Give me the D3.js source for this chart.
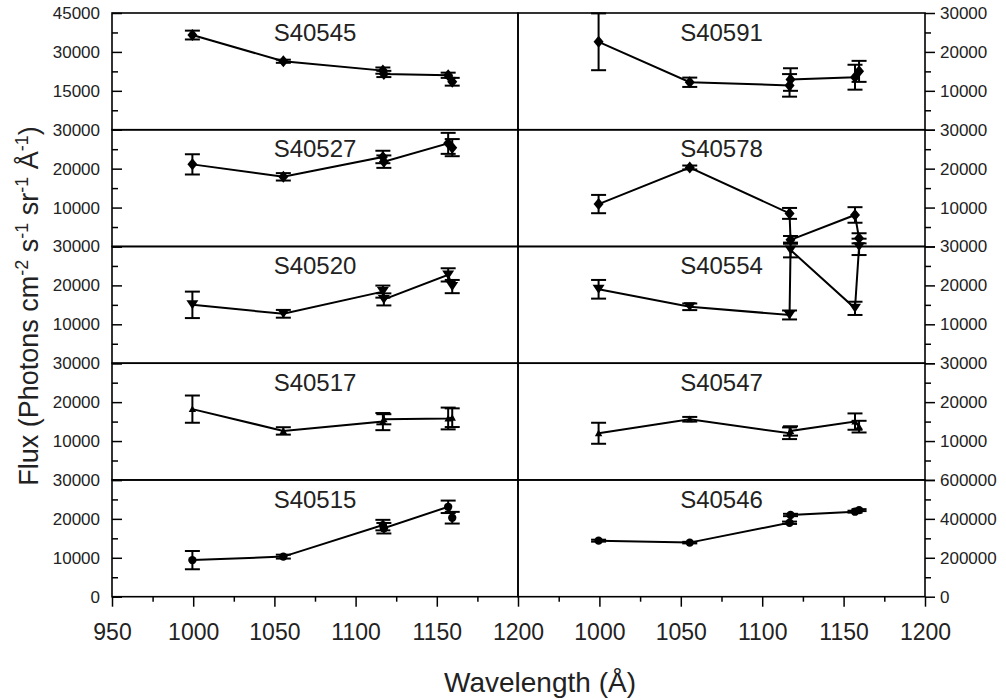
<!DOCTYPE html>
<html>
<head>
<meta charset="utf-8">
<script src="https://cdn.jsdelivr.net/npm/d3@7"></script>
<style>
  body { margin: 0; background: #fff; }
  text { font-family: "Liberation Sans", Arial, Helvetica, sans-serif; fill: #222; }
</style>
</head>
<body>
<svg id="chart" width="1006" height="700"></svg>
<script>
// wavelengths (Å) shared by every panel, in the order the line joins them
const waves = [999.5, 1055.5, 1116.8, 1117.4, 1157, 1159.5];

// flux and errors per target
const s40545 = [36500, 26400, 22800, 21500, 21000, 18500];
const s40545Err = [1700, 600, 1200, 1200, 1000, 1500];
const s40591 = [22600, 12200, 11400, 12900, 13500, 15000];
const s40591Err = [7300, 1200, 2900, 2900, 3200, 2700];
const s40527 = [21100, 17900, 23000, 21800, 26500, 25400];
const s40527Err = [2600, 950, 1600, 1600, 2700, 2200];
const s40578 = [10900, 20300, 8500, 1700, 8100, 2100];
const s40578Err = [2350, 500, 1400, 1000, 2000, 1300];
const s40520 = [15000, 12700, 18400, 16400, 22700, 19700];
const s40520Err = [3400, 1000, 1550, 1550, 1700, 1700];
const s40554 = [19000, 14500, 12400, 29100, 14100, 29900];
const s40554Err = [2400, 850, 1150, 1900, 1700, 2100];
const s40517 = [18200, 12600, 15000, 15600, 15800, 16000];
const s40517Err = [3500, 950, 2200, 1300, 2800, 2400];
const s40547 = [12000, 15600, 12000, 12600, 15000, 13700];
const s40547Err = [2700, 600, 1500, 1200, 2100, 1500];
const s40515 = [9400, 10300, 18400, 17600, 23100, 20300];
const s40515Err = [2350, 500, 1350, 1350, 1600, 1500];
const s40546 = [288000, 278000, 380000, 420000, 437000, 445000];
const s40546Err = [5000, 4000, 6000, 6000, 5000, 5000];

const svg = d3.select('#chart');

// custom marker shapes
const diamond = { draw(c, s) { const w = Math.sqrt(s) / 2; c.moveTo(0, -w * 1.2); c.lineTo(w, 0); c.lineTo(0, w * 1.2); c.lineTo(-w, 0); c.closePath(); } };
const triDown = { draw(c, s) { const w = Math.sqrt(s) / 2; c.moveTo(-w * 1.2, -w * 0.9); c.lineTo(w * 1.2, -w * 0.9); c.lineTo(0, w * 0.9); c.closePath(); } };
const triUp = { draw(c, s) { const w = Math.sqrt(s) / 2; c.moveTo(0, -w); c.lineTo(w, w * 0.8); c.lineTo(-w, w * 0.8); c.closePath(); } };

const panels = [
  { name: 'S40545', values: s40545, errors: s40545Err, col: 0, row: 0, max: 45000, step: 15000, shape: diamond, size: 100 },
  { name: 'S40591', values: s40591, errors: s40591Err, col: 1, row: 0, max: 30000, step: 10000, shape: diamond, size: 100 },
  { name: 'S40527', values: s40527, errors: s40527Err, col: 0, row: 1, max: 30000, step: 10000, shape: diamond, size: 100 },
  { name: 'S40578', values: s40578, errors: s40578Err, col: 1, row: 1, max: 30000, step: 10000, shape: diamond, size: 100 },
  { name: 'S40520', values: s40520, errors: s40520Err, col: 0, row: 2, max: 30000, step: 10000, shape: triDown, size: 100 },
  { name: 'S40554', values: s40554, errors: s40554Err, col: 1, row: 2, max: 30000, step: 10000, shape: triDown, size: 100 },
  { name: 'S40517', values: s40517, errors: s40517Err, col: 0, row: 3, max: 30000, step: 10000, shape: triUp, size: 55 },
  { name: 'S40547', values: s40547, errors: s40547Err, col: 1, row: 3, max: 30000, step: 10000, shape: triUp, size: 55 },
  { name: 'S40515', values: s40515, errors: s40515Err, col: 0, row: 4, max: 30000, step: 10000, shape: d3.symbolCircle, size: 55 },
  { name: 'S40546', values: s40546, errors: s40546Err, col: 1, row: 4, max: 600000, step: 200000, shape: d3.symbolCircle, size: 55 }
];

const colX = [[112, 518], [518, 925]];
const rowTop = 13;
const rowH = 116.74;

panels.forEach(p => {
  const [x0, x1] = colX[p.col];
  const yTop = rowTop + p.row * rowH;
  const yBot = yTop + rowH;
  const x = d3.scaleLinear().domain([950, 1200]).range([x0, x1]);
  const y = d3.scaleLinear().domain([0, p.max]).range([yBot, yTop]);
  const g = svg.append('g');

  g.append('rect')
    .attr('x', x0).attr('y', yTop)
    .attr('width', x1 - x0).attr('height', rowH)
    .attr('fill', 'none').attr('stroke', '#000').attr('stroke-width', 1.6);

  // y axis: left column ticks inward, right column ticks outward
  const majors = d3.range(0, p.max + 1, p.step);
  const minors = d3.range(p.step / 2, p.max, p.step);
  const fmt = d => (d === 0 && p.row < 4) ? '' : d;
  let major, minor;
  if (p.col === 0) {
    major = d3.axisLeft(y).tickValues(majors).tickSize(-10).tickPadding(12).tickFormat(fmt);
    minor = d3.axisLeft(y).tickValues(minors).tickSize(-6).tickFormat('');
  } else {
    major = d3.axisRight(y).tickValues(majors).tickSize(10).tickPadding(5).tickFormat(fmt);
    minor = d3.axisRight(y).tickValues(minors).tickSize(6).tickFormat('');
  }
  const xa = p.col === 0 ? x0 : x1;
  [major, minor].forEach(a => {
    const ag = g.append('g').attr('transform', `translate(${xa},0)`).call(a);
    ag.select('.domain').remove();
    ag.selectAll('line').attr('stroke', '#000').attr('stroke-width', 1.5);
    ag.selectAll('text').attr('font-size', 17).attr('fill', '#222');
  });

  // x axis only under the bottom row
  if (p.row === 4) {
    const xt = p.col === 0 ? d3.range(950, 1201, 50) : d3.range(1000, 1201, 50);
    const xb = d3.axisBottom(x).tickValues(xt).tickSize(10).tickPadding(17).tickFormat(d3.format('d'));
    const xm = d3.axisBottom(x).tickValues(d3.range(975, 1200, 50)).tickSize(5).tickFormat('');
    [xb, xm].forEach(a => {
      const ag = g.append('g').attr('transform', `translate(0,${yBot})`).call(a);
      ag.select('.domain').remove();
      ag.selectAll('line').attr('stroke', '#000').attr('stroke-width', 1.5);
      ag.selectAll('text').attr('font-size', 23).attr('fill', '#222');
    });
  }

  g.append('text')
    .attr('x', (x0 + x1) / 2).attr('y', yTop + 27.7)
    .attr('text-anchor', 'middle').attr('font-size', 24)
    .text(p.name);

  const pts = waves.map((w, i) => ({ w, v: p.values[i], e: p.errors[i] }));

  g.append('path')
    .datum(pts)
    .attr('fill', 'none').attr('stroke', '#000').attr('stroke-width', 2)
    .attr('d', d3.line().x(d => x(d.w)).y(d => y(d.v)));

  const eb = g.selectAll('.err').data(pts).join('g').attr('class', 'err');
  eb.append('line')
    .attr('x1', d => x(d.w)).attr('x2', d => x(d.w))
    .attr('y1', d => y(d.v - d.e)).attr('y2', d => y(d.v + d.e))
    .attr('stroke', '#000').attr('stroke-width', 2);
  [-1, 1].forEach(s => {
    eb.append('line')
      .attr('x1', d => x(d.w) - 7.5).attr('x2', d => x(d.w) + 7.5)
      .attr('y1', d => y(d.v + s * d.e)).attr('y2', d => y(d.v + s * d.e))
      .attr('stroke', '#000').attr('stroke-width', 2);
  });

  g.selectAll('.mark').data(pts).join('path')
    .attr('class', 'mark')
    .attr('transform', d => `translate(${x(d.w)},${y(d.v)})`)
    .attr('d', d3.symbol().type(p.shape).size(p.size))
    .attr('fill', '#000');
});

// axis titles
svg.append('text')
  .attr('x', 540).attr('y', 692)
  .attr('text-anchor', 'middle').attr('font-size', 28)
  .text('Wavelength (Å)');

const yt = svg.append('text')
  .attr('transform', 'translate(38,306) rotate(-90)')
  .attr('text-anchor', 'middle').attr('font-size', 27);
const parts = [['Flux (Photons cm', 0], ['-2', 1], [' s', 0], ['-1', 1], [' sr', 0], ['-1', 1], [' Å', 0], ['-1', 1], [')', 0]];
parts.forEach(([t, sup], i) => {
  const prevSup = i > 0 && parts[i - 1][1];
  yt.append('tspan')
    .attr('font-size', sup ? 18 : 27)
    .attr('dy', sup ? -10 : (prevSup ? 10 : 0))
    .text(t);
});
</script>
</body>
</html>
